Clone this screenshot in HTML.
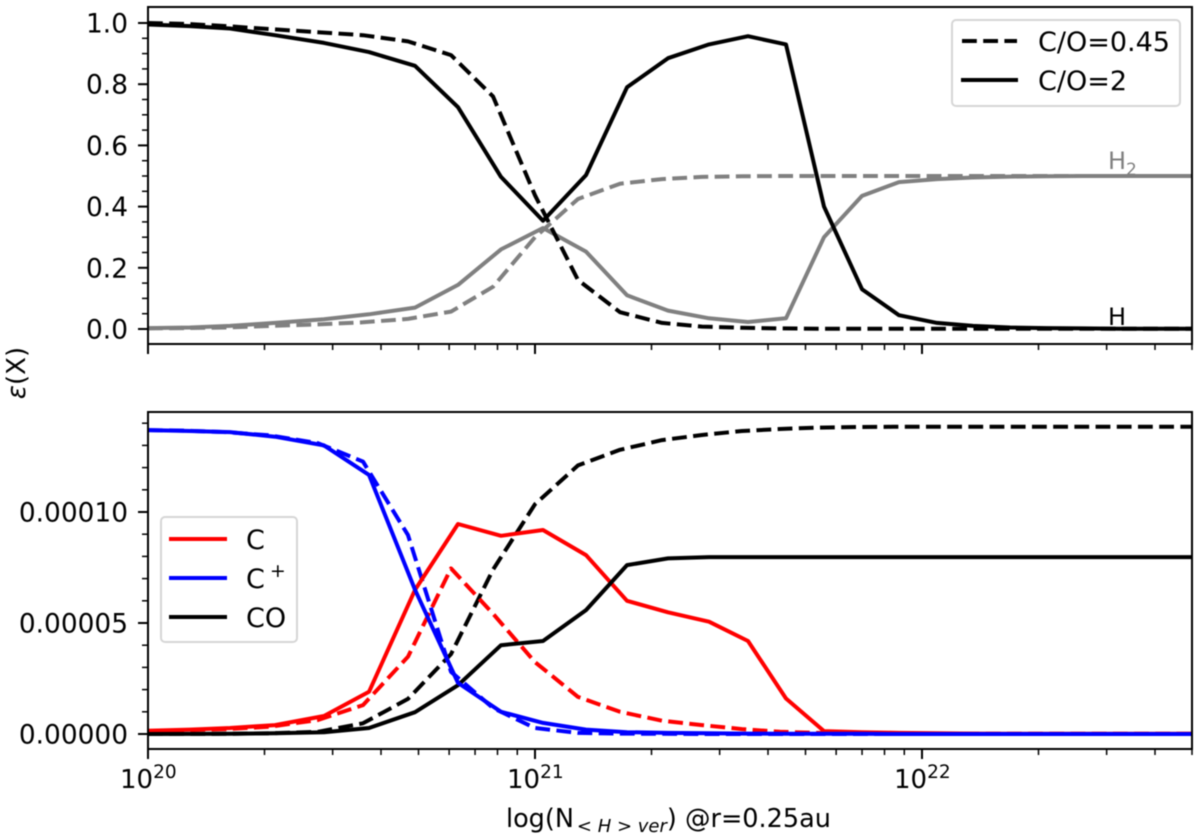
<!DOCTYPE html>
<html lang="en">
<head>
<meta charset="utf-8">
<title>Abundance chart</title>
<style>
html,body{margin:0;padding:0;background:#fff;}
svg{display:block;filter:blur(0.45px);}
text{font-family:"DejaVu Sans","Liberation Sans",sans-serif;fill:#000;}
</style>
</head>
<body>
<svg id="chart" xmlns="http://www.w3.org/2000/svg" width="1200" height="837" viewBox="0 0 1200 837">
<g id="top-marks"></g>
<g id="bottom-marks"></g>
<g id="axes"></g>

<text x="1108" y="169" font-size="24" style="fill:#808080">H<tspan font-size="17" dy="6">2</tspan></text>
<text x="1108" y="325" font-size="24">H</text>

<text transform="translate(25,373) rotate(-90)" text-anchor="middle" font-size="26"><tspan font-style="italic">ε</tspan>(X)</text>
<text x="506" y="827" font-size="25.5">log(N<tspan font-size="18" font-style="italic" dy="5" dx="3">&lt; H &gt; ver</tspan><tspan dy="-5">) @r=0.25au</tspan></text>

<g>
  <rect x="952" y="20" width="228" height="86" rx="4" fill="#fff" stroke="#d6d6d6" stroke-width="2"/>
  <line x1="962" x2="1017" y1="41" y2="41" stroke="#000" stroke-width="4" stroke-dasharray="14.8 6.4"/>
  <text x="1038" y="51" font-size="27">C/O=0.45</text>
  <line x1="961" x2="1018" y1="80" y2="80" stroke="#000" stroke-width="4"/>
  <text x="1038" y="90" font-size="27">C/O=2</text>
</g>
<g>
  <rect x="161" y="517" width="136" height="125" rx="4" fill="#fff" stroke="#d6d6d6" stroke-width="2"/>
  <line x1="169" x2="227" y1="539" y2="539" stroke="#ff0000" stroke-width="4"/>
  <text x="246" y="549" font-size="27">C</text>
  <line x1="169" x2="227" y1="578" y2="578" stroke="#0000ff" stroke-width="4"/>
  <text x="246" y="588" font-size="27">C<tspan font-size="19" dy="-11" dx="5">+</tspan></text>
  <line x1="169" x2="227" y1="617" y2="617" stroke="#000" stroke-width="4"/>
  <text x="246" y="627" font-size="27">CO</text>
</g>
</svg>
<script>
// Column density grid (log10 N), one per model
const logNSolid = [20,20.1085,20.2119,20.3282,20.4548,20.5711,20.6899,20.8010,20.9121,21.0207,21.1318,21.2377,21.3437,21.4496,21.5504,21.6486,21.7468,21.8450,21.9406,22.0388,22.1318,22.2274,22.3230,22.4160,22.5090,22.6021,22.6977];
const logNDashed = [20,20.0982,20.2016,20.3152,20.4393,20.5556,20.6718,20.7829,20.8915,21.0,21.1111,21.2196,21.3282,21.4315,21.5349,21.6331,21.7313,21.8295,21.9251,22.0207,22.1163,22.2119,22.3075,22.4005,22.4935,22.5866,22.6977];

// Top panel: abundances
const hSolid = [0.995,0.99,0.982,0.96,0.935,0.905,0.86,0.725,0.497,0.354,0.503,0.79,0.885,0.93,0.957,0.93,0.40,0.13,0.045,0.02,0.01,0.005,0.003,0.002,0.001,0.001,0.001];
const h2Solid = [0.003,0.005,0.01,0.02,0.032,0.048,0.07,0.144,0.26,0.33,0.253,0.11,0.06,0.035,0.023,0.035,0.30,0.435,0.48,0.49,0.495,0.498,0.499,0.5,0.5,0.5,0.5];
const hDashed = [1.0,0.997,0.99,0.98,0.97,0.96,0.94,0.895,0.76,0.437,0.16,0.055,0.02,0.008,0.004,0.002,0.001,0.001,0.001,0.001,0.001,0.001,0.001,0.001,0.001,0.001,0.001];
const h2Dashed = [0.002,0.003,0.005,0.01,0.015,0.022,0.033,0.057,0.138,0.30,0.425,0.475,0.49,0.497,0.499,0.5,0.5,0.5,0.5,0.5,0.5,0.5,0.5,0.5,0.5,0.5,0.5];

// Bottom panel: abundances in units of 1e-5
const cSolid = [0.15,0.2,0.27,0.4,0.81,1.9,6.49,9.46,8.93,9.19,8.06,6.0,5.48,5.06,4.19,1.6,0.13,0.08,0.05,0.03,0.02,0.01,0.01,0.01,0.01,0.01,0.01];
const cDashed = [0.13,0.17,0.22,0.33,0.63,1.3,3.48,7.46,5.42,3.24,1.67,1.0,0.6,0.4,0.22,0.1,0.05,0.03,0.02,0.01,0.01,0.01,0.01,0.01,0.01,0.01,0.01];
const cPlusSolid = [13.69,13.65,13.6,13.39,13.0,11.67,6.5,2.3,1.0,0.5,0.2,0.08,0.05,0.03,0.02,0.01,0.01,0.01,0,0,0,0,0,0,0,0,0];
const cPlusDashed = [13.69,13.66,13.6,13.45,13.1,12.27,8.96,2.8,1.17,0.27,0.05,0.02,0.01,0,0,0,0,0,0,0,0,0,0,0,0,0,0];
const coSolid = [0,0.005,0.01,0.03,0.08,0.27,0.98,2.2,4.0,4.19,5.58,7.61,7.91,7.97,7.97,7.97,7.97,7.97,7.97,7.97,7.97,7.97,7.97,7.97,7.97,7.97,7.97];
const coDashed = [0,0.005,0.01,0.03,0.1,0.48,1.58,3.6,7.4,10.35,12.1,12.8,13.24,13.47,13.65,13.74,13.8,13.83,13.84,13.84,13.84,13.84,13.84,13.84,13.84,13.84,13.84];

// Tick values
const xDecades = [20,21,22];
const xMinorMultipliers = [2,3,4,5,6,7,8,9];
const topYTicks = ["0.0","0.2","0.4","0.6","0.8","1.0"];
const topYMinorCount = 20;
const bottomYTicks = ["0.00000","0.00005","0.00010"];
const bottomYMinorCount = 14;

const NS = "http://www.w3.org/2000/svg";
const plotLeft = 148, plotRight = 1192;
const topPanel = {top: 7, bottom: 344};
const bottomPanel = {top: 412, bottom: 749};

function xScale(logN){ return plotLeft + (logN - 20) * 387; }
function yTop(v){ return 329 - v * 306; }
function yBottom(v){ return 734 - v * 22.2; }

function make(tag, attrs, parent){
  const el = document.createElementNS(NS, tag);
  for (const k in attrs) el.setAttribute(k, attrs[k]);
  parent.appendChild(el);
  return el;
}

function drawSeries(parent, name, xs, ys, yScale, color, dashed){
  const pts = xs.map((x, i) => xScale(x).toFixed(1) + "," + yScale(ys[i]).toFixed(1)).join(" ");
  const style = {points: pts, fill: "none", stroke: color, "stroke-width": 4, "stroke-linejoin": "round"};
  if (dashed) style["stroke-dasharray"] = "14.8 6.4";
  const line = make("polyline", style, parent);
  
  
}

const topG = document.getElementById("top-marks");
drawSeries(topG, "h2-dashed-line", logNDashed, h2Dashed, yTop, "#808080", true);
drawSeries(topG, "h2-solid-line", logNSolid, h2Solid, yTop, "#808080", false);
drawSeries(topG, "h-dashed-line", logNDashed, hDashed, yTop, "#000000", true);
drawSeries(topG, "h-solid-line", logNSolid, hSolid, yTop, "#000000", false);

const botG = document.getElementById("bottom-marks");
drawSeries(botG, "co-dashed-line", logNDashed, coDashed, yBottom, "#000000", true);
drawSeries(botG, "c-dashed-line", logNDashed, cDashed, yBottom, "#ff0000", true);
drawSeries(botG, "cplus-dashed-line", logNDashed, cPlusDashed, yBottom, "#0000ff", true);
drawSeries(botG, "c-solid-line", logNSolid, cSolid, yBottom, "#ff0000", false);
drawSeries(botG, "co-solid-line", logNSolid, coSolid, yBottom, "#000000", false);
drawSeries(botG, "cplus-solid-line", logNSolid, cPlusSolid, yBottom, "#0000ff", false);

const axesG = document.getElementById("axes");

function tick(x1, y1, x2, y2, w){
  const t = make("line", {x1: x1, y1: y1, x2: x2, y2: y2, stroke: "#000", "stroke-width": w}, axesG);
  
  
}

[topPanel, bottomPanel].forEach(function(p){
  const frame = make("rect", {x: plotLeft, y: p.top, width: plotRight - plotLeft, height: p.bottom - p.top, fill: "none", stroke: "#000", "stroke-width": 2}, axesG);
  
  
  xDecades.forEach(function(d){
    tick(xScale(d), p.bottom, xScale(d), p.bottom + 10, 2);
    xMinorMultipliers.forEach(function(m){
      const lx = d + Math.log10(m);
      if (xScale(lx) <= plotRight) tick(xScale(lx), p.bottom, xScale(lx), p.bottom + 6, 1.5);
    });
  });
  tick(plotRight, p.bottom, plotRight, p.bottom + 6, 1.5);
});

xDecades.forEach(function(d){
  const label = make("text", {x: xScale(d) - 28, y: 788, "font-size": 26}, axesG);
  
  
  label.textContent = "10";
  const sup = make("tspan", {"font-size": 18.5, dy: -10}, label);
  sup.textContent = String(d);
});

topYTicks.forEach(function(s){
  const v = parseFloat(s), y = yTop(v);
  tick(plotLeft - 10, y, plotLeft, y, 2);
  const label = make("text", {x: plotLeft - 20, y: y + 9.5, "text-anchor": "end", "font-size": 26.4}, axesG);
  
  
  label.textContent = s;
});
for (let i = 0; i <= topYMinorCount; i++){
  if (i % 4 !== 0) tick(plotLeft - 6, yTop(i * 0.05), plotLeft, yTop(i * 0.05), 1.5);
}

bottomYTicks.forEach(function(s){
  const v = parseFloat(s) * 1e5, y = yBottom(v);
  tick(plotLeft - 10, y, plotLeft, y, 2);
  const label = make("text", {x: plotLeft - 20, y: y + 9.5, "text-anchor": "end", "font-size": 26.4}, axesG);
  
  
  label.textContent = s;
});
for (let i = 0; i <= bottomYMinorCount; i++){
  if (i % 5 !== 0) tick(plotLeft - 6, yBottom(i), plotLeft, yBottom(i), 1.5);
}
</script>
</body>
</html>
